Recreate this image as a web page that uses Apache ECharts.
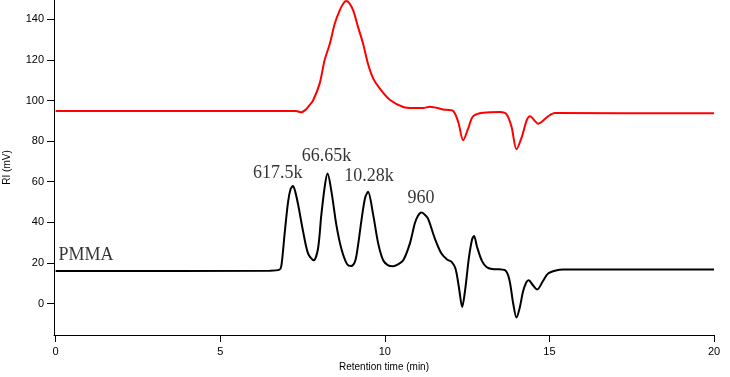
<!DOCTYPE html>
<html>
<head>
<meta charset="utf-8">
<script src="https://cdn.jsdelivr.net/npm/echarts@6/dist/echarts.min.js"></script>
<style>
  html, body { margin: 0; padding: 0; background: #fff; }
  #chart { width: 730px; height: 377px; }
</style>
</head>
<body>
<div id="chart"></div>
<script>
// PMMA trace (black)
var pmmaTime = [0, 6.5, 6.8, 6.86, 6.96, 7.06, 7.14, 7.21, 7.28, 7.37, 7.52, 7.67, 7.84, 7.97, 8.07, 8.18, 8.26, 8.38, 8.53, 8.68, 8.85, 8.98, 9.1, 9.18, 9.29, 9.4, 9.49, 9.64, 9.8, 9.95, 10.1, 10.25, 10.4, 10.56, 10.76, 10.91, 11.0, 11.11, 11.2, 11.31, 11.52, 11.72, 11.9, 12.03, 12.15, 12.25, 12.35, 12.45, 12.55, 12.65, 12.71, 12.8, 12.95, 13.09, 13.25, 13.39, 13.65, 13.78, 13.9, 14.0, 14.1, 14.2, 14.3, 14.37, 14.5, 14.63, 14.8, 14.96, 15.2, 15.42, 20];
var pmmaSignal = [16.0, 16.2, 16.7, 18.9, 35, 50, 56.5, 57.9, 55, 48.4, 35.3, 24.6, 21.3, 27, 43.5, 58.2, 64, 55, 38.5, 27, 19.5, 18.5, 21, 28, 41, 52, 55, 44.3, 29.5, 21.3, 18.8, 18.4, 19.3, 21.3, 29.5, 39.4, 43, 44.8, 44, 41.9, 32, 24.6, 21.6, 20.5, 17, 8, -1.7, 8, 22, 31.5, 33.3, 28, 21, 18, 17, 16.9, 16.4, 12, 0, -6.9, -2, 6, 10.5, 11.5, 9, 6.9, 11, 14.8, 16.3, 16.7, 16.7];

// upper trace (red)
var redTime = [0, 7.31, 7.46, 7.6, 7.7, 7.82, 8.02, 8.17, 8.33, 8.48, 8.63, 8.75, 8.83, 8.92, 9.04, 9.19, 9.34, 9.49, 9.65, 9.85, 10.15, 10.56, 10.86, 11.16, 11.37, 11.77, 12.07, 12.23, 12.38, 12.53, 12.68, 12.99, 13.5, 13.7, 13.85, 14.0, 14.16, 14.31, 14.41, 14.66, 14.96, 15.17, 20];
var redSignal = [94.8, 94.8, 94.2, 95.5, 97.5, 100, 108.3, 119.8, 128, 137.9, 144.4, 148, 149, 148, 144.4, 136, 128, 118, 110.8, 105.9, 100.4, 96.8, 96.3, 96.3, 96.9, 95.6, 94.9, 89.4, 80.4, 86.1, 92.2, 94, 94.3, 93.2, 87, 76, 82, 90.2, 92.2, 88.6, 92.2, 93.8, 93.7];

// peak annotations
var annoText = ['PMMA', '617.5k', '66.65k', '10.28k', '960'];
var annoX = [0.92, 6.75, 8.23, 9.52, 11.1];
var annoY = [23.8, 64.4, 72.3, 62.7, 51.8];

var xTicks = [0, 5, 10, 15, 20];
var yTicks = [0, 20, 40, 60, 80, 100, 120, 140];

function zip(a, b) {
    return a.map(function (v, i) { return [v, b[i]]; });
}

var chart = echarts.init(document.getElementById('chart'));
chart.setOption({
    animation: false,
    grid: { left: 54, right: 16, top: 0, bottom: 42, outerBoundsMode: 'none', containLabel: false },
    xAxis: {
        type: 'value',
        min: -0.05,
        max: 20,
        name: 'Retention time (min)',
        nameLocation: 'middle',
        nameGap: 26,
        nameTextStyle: { fontFamily: 'Liberation Sans', fontSize: 10, color: '#000' },
        axisLine: { onZero: false, lineStyle: { color: '#000', width: 1 } },
        axisTick: { customValues: xTicks, length: 7, lineStyle: { color: '#000' } },
        axisLabel: { customValues: xTicks, margin: 11, fontFamily: 'Liberation Sans', fontSize: 11, color: '#000' },
        splitLine: { show: false }
    },
    yAxis: {
        type: 'value',
        min: -15.5,
        max: 149.5,
        name: 'RI (mV)',
        nameLocation: 'middle',
        nameGap: 42,
        nameTextStyle: { fontFamily: 'Liberation Sans', fontSize: 10, color: '#000' },
        axisLine: { show: true, onZero: false, lineStyle: { color: '#000', width: 1 } },
        axisTick: { show: true, customValues: yTicks, length: 7, lineStyle: { color: '#000' } },
        axisLabel: { customValues: yTicks, margin: 10, fontFamily: 'Liberation Sans', fontSize: 11, color: '#000' },
        splitLine: { show: false }
    },
    series: [
        {
            type: 'line',
            data: zip(redTime, redSignal),
            smooth: 0.3,
            symbol: 'none',
            clip: false,
            lineStyle: { color: '#ff0000', width: 2 }
        },
        {
            type: 'line',
            data: zip(pmmaTime, pmmaSignal),
            smooth: 0.3,
            symbol: 'none',
            lineStyle: { color: '#000', width: 2 }
        },
        {
            type: 'scatter',
            data: zip(annoX, annoY),
            symbolSize: 0,
            silent: true,
            label: {
                show: true,
                position: 'inside',
                fontFamily: 'Liberation Serif',
                fontSize: 18,
                color: '#000',
                formatter: function (p) { return annoText[p.dataIndex]; }
            }
        }
    ]
});
</script>
</body>
</html>
